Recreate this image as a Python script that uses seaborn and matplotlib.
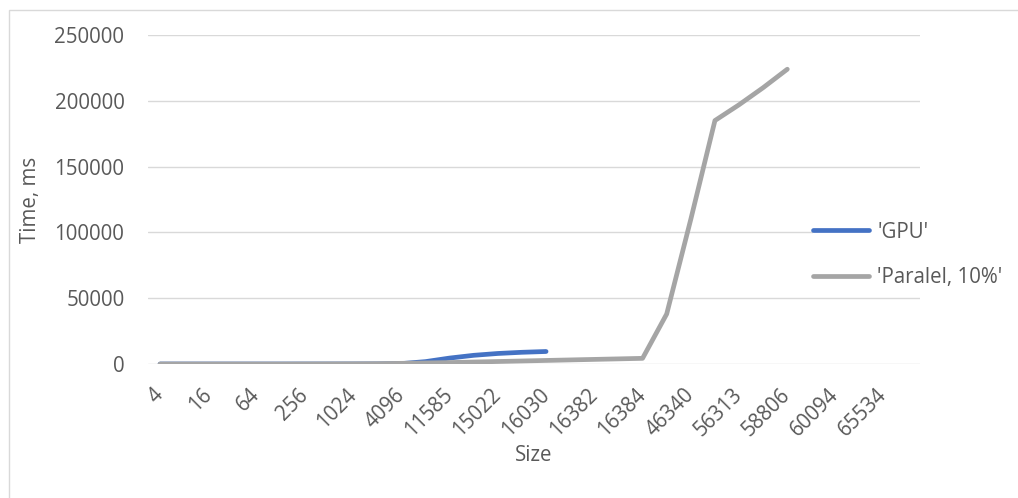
import numpy as np
import pandas as pd
import matplotlib
matplotlib.use("Agg")
import matplotlib.pyplot as plt
from matplotlib.lines import Line2D
from matplotlib.patches import Rectangle
import seaborn as sns

# Matrix sizes labelled on the axis (every second measurement step carries a label)
sizes = ["4", "16", "64", "256", "1024", "4096", "11585", "15022",
         "16030", "16382", "16384", "46340", "56313", "58806", "60094", "65534"]

nan = np.nan
# Run time in ms at each measurement step (two steps per labelled size)
gpu_ms = [0, 0, 0, 0, 0, 0, 10, 20, 40, 80, 300, 1800, 4500, 6600, 8000,
          8900, 9500] + [nan] * 15
paralel_ms = [0, 0, 0, 0, 0, 0, 50, 100, 150, 250, 500, 800, 1100, 1500,
              1900, 2300, 2700, 3100, 3500, 3900, 4300, 38000, 110000,
              185000, 197000, 210000, 224000] + [nan] * 5

series_names = ["'GPU'", "'Paralel, 10%'"]
series_colors = ["#4472C4", "#A5A5A5"]

y_ticks = [0, 50000, 100000, 150000, 200000, 250000]

TEXT = "#595959"
GRID = "#D9D9D9"
FS = 14.8

sns.set_theme(style="white")
plt.rcParams["font.family"] = ["Open Sans", "DejaVu Sans"]

n_steps = len(gpu_ms)
steps = np.arange(n_steps)
df = pd.concat([
    pd.DataFrame({"step": steps, "ms": gpu_ms, "series": series_names[0]}),
    pd.DataFrame({"step": steps, "ms": paralel_ms, "series": series_names[1]}),
]).dropna()

fig = plt.figure(figsize=(10.18, 4.98), dpi=100)
ax = fig.add_axes([148 / 1018, 1 - 364 / 498, 772 / 1018, 329 / 498])

sns.lineplot(data=df, x="step", y="ms", hue="series", hue_order=series_names,
             palette=series_colors, estimator=None, linewidth=3.4,
             solid_capstyle="round", solid_joinstyle="round",
             legend=False, ax=ax)

ax.set_xlim(-0.5, n_steps - 0.5)
ax.set_ylim(y_ticks[0], y_ticks[-1])
ax.set_yticks(y_ticks)
ax.set_yticklabels([str(v) for v in y_ticks])
ax.set_xticks(steps[::2])
ax.set_xticklabels(sizes, rotation=45, ha="right", va="center",
                   rotation_mode="anchor")

for s in ax.spines.values():
    s.set_visible(False)
ax.yaxis.grid(True, color=GRID, linewidth=1.0)
ax.xaxis.grid(False)
ax.set_axisbelow(True)
ax.tick_params(axis="x", length=0, pad=20, labelsize=FS, labelcolor=TEXT)
ax.tick_params(axis="y", length=0, pad=17, labelsize=FS, labelcolor=TEXT)

ax.set_xlabel("Size", fontsize=FS, color=TEXT)
ax.set_ylabel("Time, ms", fontsize=FS, color=TEXT)
ax.xaxis.set_label_coords(0.5, -0.245)
ax.yaxis.set_label_coords(-0.138, 0.5)

handles = [Line2D([], [], color=c, linewidth=3.4, solid_capstyle="round")
           for c in series_colors]
leg = ax.legend(handles, series_names, loc="center left",
                bbox_to_anchor=(813 / 1018, 1 - 255 / 498),
                bbox_transform=fig.transFigure, frameon=True,
                facecolor="white", edgecolor="none", framealpha=1,
                borderpad=0, borderaxespad=0, handlelength=2.73,
                handletextpad=0.39, labelspacing=1.2, fontsize=FS)
for t in leg.get_texts():
    t.set_color(TEXT)

# chart area outline
fig.add_artist(Rectangle((8.5 / 1018, -0.5), 2.0, 0.5 + 1 - 10.5 / 498,
                         transform=fig.transFigure, fill=False,
                         edgecolor=GRID, linewidth=1.0, clip_on=False))

fig.savefig("out.png", dpi=100)
